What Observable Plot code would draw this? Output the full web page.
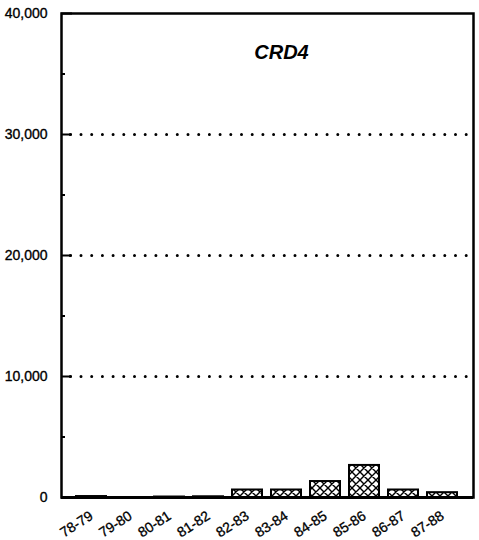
<!DOCTYPE html>
<html>
<head>
<meta charset="utf-8">
<script src="https://cdn.jsdelivr.net/npm/d3@7"></script>
<script src="https://cdn.jsdelivr.net/npm/@observablehq/plot@0.6"></script>
<style>
  body { margin: 0; background: #fff; }
  svg { font-family: "Liberation Sans", Arial, sans-serif; }
</style>
</head>
<body>
<div id="chart"></div>
<script>
const categories = ["78-79","79-80","80-81","81-82","82-83","83-84","84-85","85-86","86-87","87-88"];
const values = [80, 0, 40, 60, 620, 620, 1320, 2650, 620, 400];
const majorTicks = [0, 10000, 20000, 30000, 40000];
const minorTicks = [5000, 15000, 25000, 35000];
const gridLines = [10000, 20000, 30000];
const title = ["CRD4"];

const data = categories.map((c, i) => ({cat: c, val: values[i]}));

const chart = Plot.plot({
  width: 479,
  height: 540,
  marginLeft: 61,
  marginRight: 6,
  marginTop: 13,
  marginBottom: 43,
  style: {fontFamily: "Liberation Sans, Arial, sans-serif", background: "#fff", fontSize: "14px", color: "black"},
  x: {domain: categories, paddingInner: 0.22, paddingOuter: 0.31, tickRotate: -33, tickSize: 0, tickPadding: 17, label: null},
  y: {domain: [0, 40000], ticks: majorTicks, tickFormat: d3.format(","), tickSize: 0, tickPadding: 14, label: null},
  marks: [
    Plot.ruleY(gridLines, {stroke: "black", strokeWidth: 3, strokeLinecap: "round", strokeDasharray: "0 10.7", strokeDashoffset: -20}),
    Plot.ruleY(majorTicks, {stroke: "black", strokeWidth: 2, strokeDasharray: "11 2000"}),
    Plot.ruleY(minorTicks, {stroke: "black", strokeWidth: 2, strokeDasharray: "4 2000"}),
    Plot.barY(data, {x: "cat", y: "val", fill: "url(#xhatch)", stroke: "black", strokeWidth: 2}),
    Plot.ruleY([0], {stroke: "black", strokeWidth: 3}),
    Plot.frame({stroke: "black", strokeWidth: 2.5}),
    Plot.text(title, {frameAnchor: "top", dx: 14, dy: 31, fontSize: 20, fontWeight: "bold", fontStyle: "italic", fill: "black"})
  ]
});

const svg = d3.select(chart.tagName.toLowerCase() === "svg" ? chart : chart.querySelector("svg"));
const pat = svg.insert("defs", ":first-child")
  .append("pattern")
  .attr("id", "xhatch")
  .attr("patternUnits", "userSpaceOnUse")
  .attr("width", 8)
  .attr("height", 8);
pat.append("rect").attr("width", 8).attr("height", 8).attr("fill", "white");
pat.append("path").attr("d", "M0,0L8,8M8,0L0,8M-1,7L1,9M7,-1L9,1").attr("stroke", "black").attr("stroke-width", 1.4);

svg.selectAll("g[aria-label^='y-axis'] text").attr("font-size", 14).attr("stroke", "black").attr("stroke-width", 0.35);
svg.selectAll("g[aria-label^='x-axis'] text").attr("font-size", 14).attr("stroke", "black").attr("stroke-width", 0.3);

document.getElementById("chart").appendChild(chart);
</script>
</body>
</html>
